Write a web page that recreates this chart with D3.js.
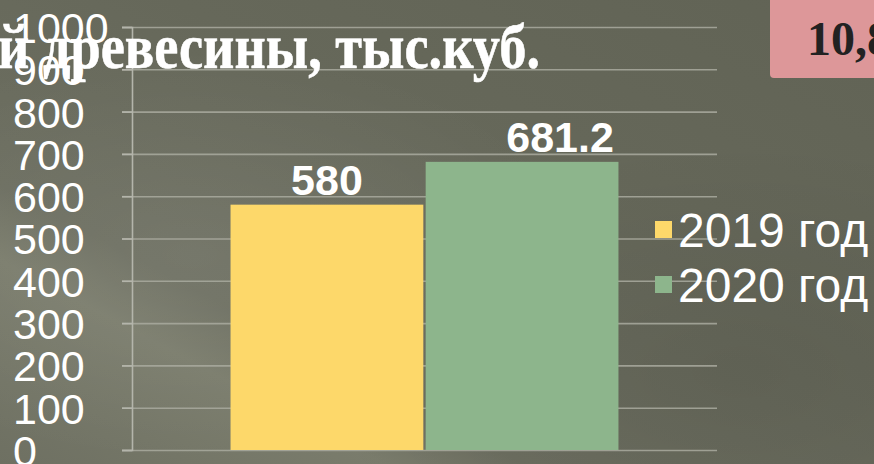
<!DOCTYPE html>
<html>
<head>
<meta charset="utf-8">
<script src="https://cdn.jsdelivr.net/npm/d3@7"></script>
<style>
  html, body { margin: 0; padding: 0; background: #65675a; }
  svg { display: block; }
</style>
</head>
<body>
<svg id="chart" width="874" height="464"></svg>
<script>
// Harvested timber volume, thousand cubic metres
const categories = [""];
const seriesNames = ["2019 год", "2020 год"];
const seriesValues = [580, 681.2];
const valueLabels = ["580", "681.2"];
const tickValues = [0, 100, 200, 300, 400, 500, 600, 700, 800, 900, 1000];
const titleText = "й древесины, тыс.куб.";
const badgeText = "10,8";
const seriesColors = ["#fdd86a", "#8db58c"];

const W = 874, H = 464;
const plot = { left: 132, right: 717, top: 27, bottom: 450 };

const svg = d3.select("#chart");
const defs = svg.append("defs");

// Background: olive-grey slate with a soft diagonal sheen
const bg = defs.append("linearGradient").attr("id", "bg")
  .attr("x1", "0").attr("y1", "1").attr("x2", "1").attr("y2", "0");
bg.append("stop").attr("offset", "0").attr("stop-color", "#6e7062");
bg.append("stop").attr("offset", "0.22").attr("stop-color", "#7a7c6c");
bg.append("stop").attr("offset", "0.30").attr("stop-color", "#6c6e60");
bg.append("stop").attr("offset", "0.6").attr("stop-color", "#66685a");
bg.append("stop").attr("offset", "1").attr("stop-color", "#616355");
svg.append("rect").attr("width", W).attr("height", H).attr("fill", "url(#bg)");

const sheen = defs.append("radialGradient").attr("id", "sheen")
  .attr("cx", "0.22").attr("cy", "0.55").attr("r", "0.45");
sheen.append("stop").attr("offset", "0").attr("stop-color", "#ffffff").attr("stop-opacity", 0.07);
sheen.append("stop").attr("offset", "1").attr("stop-color", "#ffffff").attr("stop-opacity", 0);
svg.append("rect").attr("width", W).attr("height", H).attr("fill", "url(#sheen)");

const shade = defs.append("radialGradient").attr("id", "shade")
  .attr("cx", "0.85").attr("cy", "0.8").attr("r", "0.5");
shade.append("stop").attr("offset", "0").attr("stop-color", "#000000").attr("stop-opacity", 0.08);
shade.append("stop").attr("offset", "1").attr("stop-color", "#000000").attr("stop-opacity", 0);
svg.append("rect").attr("width", W).attr("height", H).attr("fill", "url(#shade)");

// Scales
const y = d3.scaleLinear().domain([0, 1000]).range([plot.bottom, plot.top]);
const x0 = d3.scaleBand().domain(categories).range([plot.left, plot.right]).paddingInner(0).paddingOuter(0.254);
const x1 = d3.scaleBand().domain(seriesNames).range([0, x0.bandwidth()]).paddingInner(0.012);

// Gridlines
svg.append("g").selectAll("line").data(tickValues).join("line")
  .attr("x1", plot.left - 10).attr("x2", plot.right)
  .attr("y1", d => y(d) + 0.5).attr("y2", d => y(d) + 0.5)
  .attr("stroke", "#a9aa9f").attr("stroke-width", 1.6).attr("stroke-opacity", 0.85);

// Y axis
const yAxis = svg.append("g").attr("transform", `translate(${plot.left},0)`)
  .call(d3.axisLeft(y).tickValues(tickValues).tickSize(10).tickFormat(d3.format("d")));
yAxis.select(".domain").attr("stroke", "#b4b5ab").attr("stroke-width", 1.6);
yAxis.selectAll(".tick line").attr("stroke", "#b4b5ab").attr("stroke-width", 1.6);
yAxis.selectAll(".tick text")
  .attr("x", 13 - plot.left).attr("dy", "0.36em")
  .attr("text-anchor", "start")
  .attr("fill", "#ffffff")
  .style("font-family", "'Liberation Sans', Arial, sans-serif")
  .style("font-size", "43px");

// Bars
svg.append("g").selectAll("rect").data(seriesValues).join("rect")
  .attr("x", (d, i) => x0(categories[0]) + x1(seriesNames[i]))
  .attr("width", x1.bandwidth())
  .attr("y", d => y(d))
  .attr("height", d => y(0) - y(d))
  .attr("fill", (d, i) => seriesColors[i]);

// Value labels (the second one sits a little to the right of its bar)
const labelShift = [0, 38];
svg.append("g").selectAll("text").data(seriesValues).join("text")
  .attr("x", (d, i) => x0(categories[0]) + x1(seriesNames[i]) + x1.bandwidth() / 2 + labelShift[i])
  .attr("y", d => y(d) - 10)
  .attr("text-anchor", "middle")
  .attr("fill", "#ffffff")
  .style("font-family", "'Liberation Sans', Arial, sans-serif")
  .style("font-weight", "bold")
  .style("font-size", "43px")
  .text((d, i) => valueLabels[i]);

// Legend
const legend = svg.append("g").attr("transform", "translate(655,221)");
const items = legend.selectAll("g").data(seriesNames).join("g")
  .attr("transform", (d, i) => `translate(0,${i * 55})`);
items.append("rect").attr("width", 17).attr("height", 17)
  .attr("fill", (d, i) => seriesColors[i]);
items.append("text").attr("x", 23).attr("y", 26)
  .attr("fill", "#ffffff")
  .style("font-family", "'Liberation Sans', Arial, sans-serif")
  .style("font-size", "48px")
  .text(d => d);

// Title
svg.append("text")
  .attr("x", -2).attr("y", 68)
  .attr("textLength", 542).attr("lengthAdjust", "spacingAndGlyphs")
  .attr("fill", "#ffffff")
  .attr("stroke", "#ffffff").attr("stroke-width", 0.6)
  .style("font-family", "'Liberation Serif', 'DejaVu Serif', serif")
  .style("font-weight", "bold")
  .style("font-size", "64px")
  .text(titleText);

// Badge
svg.append("path")
  .attr("d", "M770,0 H874 V78 H774 Q770,78 770,74 Z")
  .attr("fill", "#dd9799");
svg.append("text")
  .attr("x", 807).attr("y", 55)
  .attr("fill", "#222222")
  .style("font-family", "'Liberation Serif', 'DejaVu Serif', serif")
  .style("font-weight", "bold")
  .style("font-size", "48px")
  .text(badgeText);
</script>
</body>
</html>
